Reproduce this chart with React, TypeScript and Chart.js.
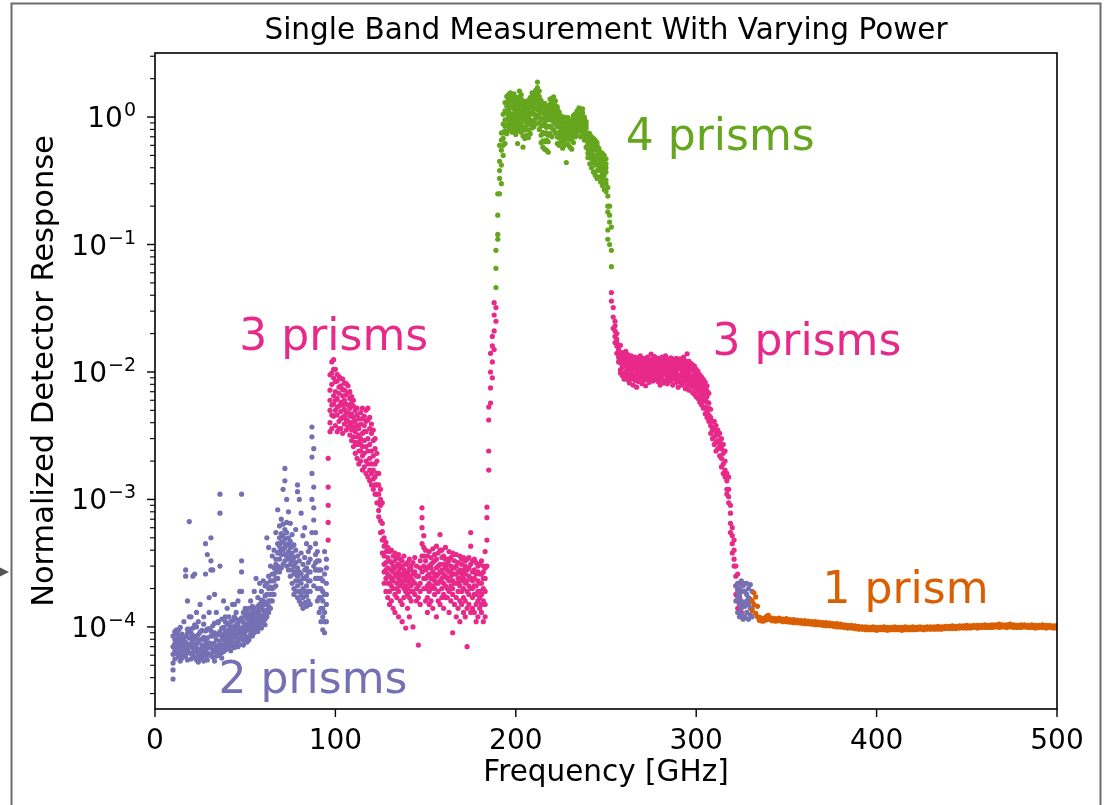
import React, { useEffect, useRef } from "react";
import { Chart, registerables } from "chart.js";

Chart.register(...registerables);

// ---------------- DATA ----------------
const X_TICKS = [0, 100, 200, 300, 400, 500];
const Y_TICK_EXPONENTS = [-4, -3, -2, -1, 0];
const X_RANGE = [0, 500];
const Y_RANGE = [2.27e-5, 3.18];

const TITLE = "Single Band Measurement With Varying Power";
const X_LABEL = "Frequency [GHz]";
const Y_LABEL = "Normalized Detector Response";

const PURPLE = "#7570b3";
const PINK = "#e7298a";
const GREEN = "#66a61e";
const ORANGE = "#d95f02";

// 2 prisms, low band: frequency (GHz) and the readings at each frequency
const PURPLE_LO_FREQ = [10,11,12,13,14,15,16,17,18,19,20,21,22,23,24,25,26,27,28,29,30,31,32,33,34,35,36,37,38,39,40,41,42,43,44,45,46,47,48,49,50,51,52,53,54,55,56,57,58,59,60,61,62,63,64,65,66,67,68,69,70,71,72,73,74,75,76,77,78,79,80,81,82,83,84,85,86,87,88,89,90,91,92,93,94,95];
const PURPLE_LO_READINGS = [
  [8.5e-5,5.2e-5,3.9e-5,4.6e-5,7.0e-5,6.1e-5],[9.2e-5,6.5e-5,7.4e-5,5.6e-5,8.0e-5,6.9e-5],[8.8e-5,6.9e-5,7.8e-5,9.5e-5,6.2e-5,7.3e-5],
  [9.4e-5,7.2e-5,6.3e-5,8.1e-5,5.8e-5,8.6e-5],[8.6e-5,6.1e-5,7.5e-5,9.9e-5,6.8e-5,5.4e-5],[7.9e-5,5.7e-5,6.8e-5,8.8e-5,6.4e-5,7.4e-5],
  [8.3e-5,6.4e-5,7.1e-5,1.1e-4,5.9e-5,7.7e-5],[7.6e-5,5.9e-5,6.6e-5,2.8e-4,2.5e-4,8.4e-5,6.1e-5],[8.9e-5,6.7e-5,7.3e-5,1.6e-4,5.5e-5,9.6e-5],
  [9.6e-5,7.0e-5,8.2e-5,6.7e-4,6.3e-5,1.2e-4],[8.1e-5,6.2e-5,7.4e-5,1.2e-4,5.6e-5,9.0e-5],[9.8e-5,6.8e-5,7.7e-5,2.5e-4,6.0e-5,8.6e-5],
  [8.4e-5,5.8e-5,7.0e-5,2.6e-4,6.5e-5,1.04e-4],[1.0e-4,7.3e-5,6.4e-5,1.3e-4,5.5e-5,8.1e-5],[8.7e-5,6.0e-5,7.6e-5,1.1e-4,6.7e-5,5.3e-5],
  [9.1e-5,6.6e-5,5.6e-5,1.5e-4,7.9e-5,6.1e-5],[8.0e-5,6.3e-5,7.2e-5,9.4e-5,5.7e-5,6.8e-5],[1.05e-4,7.1e-5,8.3e-5,1.2e-4,6.2e-5,5.4e-5],
  [9.3e-5,6.5e-5,7.8e-5,4.5e-4,2.6e-4,5.9e-5,7.2e-5],[8.2e-5,5.5e-5,6.9e-5,3.7e-4,6.3e-5,9.6e-5],[9.7e-5,6.9e-5,7.5e-5,1.7e-4,1.3e-4,6.0e-5],
  [8.5e-5,6.1e-5,7.0e-5,5.0e-4,3.3e-4,2.8e-4,9.3e-5],[1.02e-4,7.4e-5,6.6e-5,2.8e-4,5.8e-5,8.5e-5],[9.0e-5,5.4e-5,7.3e-5,1.8e-4,6.4e-5,1.07e-4],
  [8.6e-5,6.7e-5,7.9e-5,1.3e-4,5.9e-5,7.0e-5],[1.08e-4,6.0e-5,7.1e-5,1.1e-4,8.8e-5,6.5e-5],[9.2e-5,6.8e-5,7.7e-5,1.1e-3,7.8e-4,3.0e-4,6.1e-5],
  [8.4e-5,6.3e-5,7.2e-5,9.8e-5,5.7e-5,1.15e-4],[9.9e-5,7.0e-5,8.0e-5,1.6e-4,6.4e-5,8.7e-5],[1.1e-4,7.5e-5,8.6e-5,1.2e-4,6.6e-5,9.4e-5],
  [9.4e-5,6.9e-5,8.1e-5,1.4e-4,7.3e-5,1.05e-4],[1.03e-4,7.8e-5,8.8e-5,1.2e-4,6.8e-5,9.1e-5],[9.6e-5,7.2e-5,8.4e-5,1.1e-4,6.5e-5,7.7e-5],
  [1.12e-4,8.0e-5,9.1e-5,1.5e-4,7.1e-5,1.0e-4],[1.0e-4,7.4e-5,8.7e-5,1.2e-4,1.5e-4,6.9e-5],[1.15e-4,8.3e-5,9.5e-5,1.3e-4,7.5e-5,1.04e-4],
  [1.06e-4,7.7e-5,8.9e-5,1.6e-4,7.0e-5,9.7e-5],[9.8e-5,8.1e-5,9.2e-5,1.9e-4,1.13e-4,7.3e-5],[1.18e-4,8.5e-5,9.7e-5,1.1e-3,3.3e-4,2.7e-4,1.9e-4],
  [1.09e-4,7.9e-5,9.0e-5,1.3e-4,7.2e-5,1.0e-4],[1.2e-4,8.6e-5,1.0e-4,1.4e-4,7.7e-5,9.3e-5],[1.05e-4,7.6e-5,9.4e-5,1.3e-4,8.3e-5,1.17e-4],
  [1.14e-4,8.2e-5,9.8e-5,1.4e-4,7.9e-5,1.26e-4],[1.25e-4,8.8e-5,1.03e-4,1.6e-4,9.5e-5,1.12e-4],[1.19e-4,9.3e-5,1.07e-4,1.45e-4,8.5e-5,1.35e-4],
  [1.32e-4,9.0e-5,1.12e-4,1.9e-4,1.0e-4,1.22e-4],[1.4e-4,9.6e-5,1.18e-4,2.4e-4,1.06e-4,1.3e-4],[1.28e-4,1.0e-4,1.15e-4,1.7e-4,9.2e-5,1.45e-4],
  [1.5e-4,1.05e-4,1.25e-4,2.2e-4,1.13e-4,1.37e-4],[1.44e-4,9.8e-5,1.2e-4,1.9e-4,1.08e-4,1.62e-4],[1.6e-4,1.1e-4,1.35e-4,2.3e-4,1.22e-4,1.48e-4],
  [1.55e-4,1.15e-4,1.3e-4,2.1e-4,1.75e-4,1.04e-4],[1.8e-4,1.2e-4,1.5e-4,5.0e-4,2.2e-4,1.35e-4],[2.0e-4,1.3e-4,1.6e-4,4.2e-4,2.5e-4,1.45e-4],
  [2.3e-4,1.4e-4,1.8e-4,3.0e-4,2.05e-4,1.6e-4],[2.6e-4,1.6e-4,2.0e-4,3.6e-4,2.3e-4,1.8e-4],[2.9e-4,1.8e-4,2.3e-4,4.0e-4,2.6e-4,2.05e-4],
  [3.4e-4,2.1e-4,2.7e-4,5.5e-4,3.1e-4,2.4e-4],[3.8e-4,2.4e-4,3.0e-4,8.3e-4,4.5e-4,2.8e-4],[4.3e-4,2.7e-4,3.4e-4,6.2e-4,3.9e-4,5.0e-4],
  [4.6e-4,2.9e-4,3.7e-4,7.0e-4,4.1e-4,5.4e-4],[5.2e-4,3.1e-4,4.0e-4,1.2e-3,4.6e-4,6.4e-4],[4.9e-4,3.3e-4,4.2e-4,1.75e-3,1.4e-3,3.7e-4,5.8e-4],
  [5.5e-4,3.0e-4,4.4e-4,1.0e-3,3.6e-4,6.6e-4],[5.0e-4,2.8e-4,3.9e-4,8.0e-4,3.4e-4,4.5e-4],[4.7e-4,2.5e-4,3.6e-4,6.5e-4,3.1e-4,4.2e-4],
  [5.3e-4,2.2e-4,3.3e-4,4.3e-4,2.8e-4,3.8e-4],[4.4e-4,2.0e-4,3.0e-4,1.8e-4,2.6e-4,3.5e-4],[4.0e-4,1.9e-4,2.7e-4,5.8e-4,2.3e-4,3.2e-4],
  [3.6e-4,1.7e-4,2.5e-4,1.3e-3,1.15e-3,2.1e-4,2.9e-4],[3.3e-4,1.6e-4,2.3e-4,1.0e-3,1.9e-4,2.7e-4],[3.8e-4,1.5e-4,2.2e-4,7.8e-4,2.6e-4,1.8e-4],
  [3.1e-4,1.4e-4,2.0e-4,5.2e-4,2.4e-4,1.7e-4],[3.5e-4,1.55e-4,2.4e-4,6.0e-4,2.8e-4,1.9e-4],[2.9e-4,1.45e-4,2.1e-4,4.5e-4,2.5e-4,1.75e-4],
  [3.2e-4,1.6e-4,2.3e-4,3.9e-4,2.7e-4,1.9e-4],[2.7e-4,1.5e-4,1.9e-4,4.2e-4,2.3e-4,3.4e-4],[3.7e-3,3.1e-3,2.15e-3,1.6e-3,1.0e-3,5.5e-4],
  [2.5e-3,1.25e-3,8.6e-4,6.9e-4,3.0e-4,2.1e-4],[4.5e-4,2.4e-4,3.2e-4,5.5e-4,2.8e-4,3.7e-4],[3.9e-4,2.0e-4,2.8e-4,1.6e-4,2.4e-4,3.3e-4],
  [3.3e-4,1.7e-4,2.4e-4,1.3e-4,2.0e-4,2.8e-4],[2.8e-4,1.4e-4,2.0e-4,1.1e-4,1.7e-4,2.4e-4],[2.3e-4,1.2e-4,1.6e-4,9.5e-5,1.4e-4,1.9e-4],
  [3.9e-4,1.3e-4,1.8e-4,9.0e-5,1.1e-4,2.6e-4],[2.9e-4,1.5e-4,2.2e-4,1.1e-4,3.4e-4,1.8e-4]
];

// 3 prisms, low band
const PINK_LO_FREQ = [96,97,98,99,100,101,102,103,104,105,106,107,108,109,110,111,112,113,114,115,116,117,118,119,120,121,122,123,124,125,126,127,128,129,130,131,132,133,134,135,136,137,138,139,140,141,142,143,144,145,146,147,148,149,150,151,152,153,154,155,156,157,158,159,160,161,162,163,164,165,166,167,168,169,170,171,172,173,174,175,176,177,178,179,180,181,182,183,184,185,186,187,188,189];
const PINK_LO_READINGS = [
  [2.1e-3,1.25e-3,9.0e-4,6.6e-4,4.8e-4],[9.5e-3,6.0e-3,4.0e-3,3.4e-3,7.2e-3,5.0e-3],[1.2e-2,8.0e-3,5.5e-3,3.6e-3,9.8e-3,4.6e-3],
  [1.25e-2,9.0e-3,6.5e-3,4.5e-3,1.05e-2,5.6e-3],[1.05e-2,7.0e-3,5.0e-3,3.8e-3,8.4e-3,6.0e-3],[8.5e-3,4.6e-3,6.2e-3,3.4e-3,9.6e-3,5.3e-3],
  [5.4e-3,9.2e-3,4.1e-3,6.8e-3,3.6e-3,7.6e-3],[7.8e-3,3.6e-3,5.8e-3,4.9e-3,8.9e-3,4.3e-3],[4.4e-3,8.8e-3,6.5e-3,3.3e-3,5.5e-3,7.3e-3],
  [6.0e-3,3.9e-3,7.2e-3,5.1e-3,8.2e-3,4.5e-3],[3.5e-3,8.1e-3,4.2e-3,5.6e-3,6.6e-3,4.8e-3],[5.5e-3,3.7e-3,6.9e-3,4.8e-3,7.8e-3,4.1e-3],
  [3.2e-3,6.2e-3,4.5e-3,5.2e-3,3.8e-3,7.0e-3],[5.7e-3,2.9e-3,4.0e-3,3.5e-3,6.4e-3,4.7e-3],[3.7e-3,5.4e-3,2.6e-3,4.4e-3,3.1e-3,6.0e-3],
  [2.3e-3,5.0e-3,3.4e-3,4.1e-3,2.8e-3,3.7e-3],[3.1e-3,4.6e-3,2.1e-3,2.7e-3,3.8e-3,5.2e-3],[2.8e-3,4.3e-3,1.9e-3,3.6e-3,2.4e-3,3.2e-3],
  [4.8e-3,2.0e-3,3.0e-3,2.4e-3,3.9e-3,2.7e-3],[3.3e-3,5.2e-3,2.2e-3,1.7e-3,4.3e-3,2.6e-3],[1.8e-3,4.5e-3,2.9e-3,3.8e-3,2.3e-3,3.4e-3],
  [2.6e-3,5.0e-3,1.6e-3,3.4e-3,4.1e-3,2.0e-3],[4.2e-3,1.5e-3,2.4e-3,3.0e-3,5.2e-3,1.9e-3],[2.1e-3,3.6e-3,1.4e-3,2.7e-3,4.4e-3,1.7e-3],
  [1.9e-3,3.3e-3,2.4e-3,1.3e-3,3.9e-3,1.6e-3],[2.9e-3,1.2e-3,1.7e-3,2.2e-3,3.5e-3,1.45e-3],[1.5e-3,2.5e-3,1.1e-3,1.9e-3,3.0e-3,1.3e-3],
  [2.0e-3,9.4e-4,1.3e-3,1.6e-3,2.3e-3,1.1e-3],[1.1e-3,1.6e-3,8.2e-4,7.3e-4,1.3e-3,9.4e-4],[9.0e-4,1.2e-3,6.8e-4,5.5e-4,1.0e-3],
  [6.5e-4,9.4e-4,4.8e-4,3.8e-4,5.6e-4],[5.0e-4,3.6e-4,2.7e-4,4.3e-4,3.1e-4,2.2e-4],[4.6e-4,3.2e-4,2.4e-4,1.9e-4,3.9e-4,2.8e-4],
  [4.2e-4,2.9e-4,2.2e-4,3.5e-4,1.7e-4,2.6e-4],[3.3e-4,2.5e-4,1.9e-4,3.9e-4,2.2e-4,1.5e-4],[2.8e-4,4.0e-4,2.1e-4,1.6e-4,3.2e-4,2.4e-4],
  [3.6e-4,2.0e-4,2.7e-4,1.4e-4,2.3e-4,3.0e-4],[2.5e-4,3.3e-4,1.8e-4,2.9e-4,3.8e-4,1.3e-4],[3.0e-4,2.2e-4,3.5e-4,1.7e-4,2.6e-4,2.0e-4],
  [2.4e-4,1.9e-4,3.1e-4,2.7e-4,1.2e-4,3.7e-4],[3.4e-4,2.6e-4,2.1e-4,1.6e-4,2.9e-4,2.3e-4],[2.2e-4,3.0e-4,1.5e-4,2.5e-4,1.1e-4,3.3e-4],
  [2.8e-4,2.0e-4,3.6e-4,2.3e-4,1.7e-4,2.6e-4],[1.9e-4,2.6e-4,3.1e-4,2.1e-4,9.8e-5,2.4e-4],[3.2e-4,2.3e-4,1.8e-4,2.7e-4,1.4e-4,2.0e-4],
  [2.5e-4,1.7e-4,2.9e-4,2.2e-4,1.2e-4,3.4e-4],[2.1e-4,2.8e-4,1.6e-4,2.4e-4,3.0e-4,1.9e-4],[2.6e-4,1.9e-4,3.2e-4,1.0e-4,2.3e-4],
  [2.7e-4,1.8e-4,3.5e-4,2.2e-4],[3.0e-4,2.0e-4,1.6e-4,2.5e-4],[2.5e-4,1.7e-4,7.2e-5,2.1e-4],
  [2.9e-4,2.2e-4,1.5e-4,3.3e-4,1.9e-4],[8.6e-4,6.0e-4,4.5e-4,2.7e-4,3.6e-4,7.2e-4],[5.2e-4,3.6e-4,2.4e-4,3.0e-4,4.2e-4,2.0e-4],
  [4.0e-4,2.8e-4,2.0e-4,3.3e-4,1.6e-4,2.4e-4],[3.6e-4,2.5e-4,1.7e-4,1.3e-4,2.9e-4,2.1e-4],[3.0e-4,3.9e-4,2.2e-4,1.9e-4,2.6e-4,1.5e-4],
  [2.4e-4,3.5e-4,1.6e-4,2.9e-4,2.0e-4,3.1e-4],[4.1e-4,2.7e-4,2.1e-4,1.4e-4,3.2e-4,2.4e-4],[3.3e-4,2.3e-4,3.7e-4,1.8e-4,2.6e-4,2.0e-4],
  [2.9e-4,4.3e-4,2.2e-4,1.2e-4,3.4e-4,2.5e-4],[3.8e-4,2.6e-4,1.9e-4,3.0e-4,2.2e-4,1.6e-4],[5.3e-4,3.1e-4,2.3e-4,1.5e-4,4.0e-4,2.7e-4],
  [2.8e-4,4.0e-4,2.0e-4,3.5e-4,1.7e-4,2.4e-4],[3.6e-4,2.6e-4,1.8e-4,1.4e-4,3.1e-4,2.2e-4],[4.2e-4,2.9e-4,2.1e-4,3.4e-4,2.5e-4,1.7e-4],
  [2.4e-4,3.4e-4,1.7e-4,2.8e-4,2.0e-4,3.1e-4],[3.9e-4,2.7e-4,1.9e-4,1.3e-4,2.3e-4,3.3e-4],[3.0e-4,2.5e-4,1.6e-4,3.5e-4,2.1e-4,2.7e-4],
  [3.8e-4,2.3e-4,1.8e-4,9.0e-5,2.9e-4,2.0e-4],[2.6e-4,3.3e-4,1.5e-4,2.9e-4,2.2e-4,3.7e-4],[3.7e-4,2.2e-4,1.7e-4,1.2e-4,2.6e-4,3.0e-4],
  [2.4e-4,3.2e-4,1.4e-4,2.7e-4,1.9e-4,2.2e-4],[3.6e-4,2.1e-4,1.6e-4,1.1e-4,2.8e-4,2.4e-4],[2.3e-4,3.1e-4,1.5e-4,2.6e-4,1.9e-4,3.4e-4],
  [3.5e-4,2.0e-4,1.3e-4,2.8e-4,2.4e-4,1.7e-4],[3.0e-4,2.2e-4,1.6e-4,1.2e-4,2.6e-4,3.3e-4],[3.4e-4,1.9e-4,1.4e-4,7.0e-5,2.3e-4,2.8e-4],
  [2.9e-4,2.1e-4,1.5e-4,2.5e-4,3.5e-4,1.8e-4],[5.5e-4,4.3e-4,2.4e-4,1.3e-4,3.1e-4,2.0e-4],[3.3e-4,2.0e-4,1.4e-4,2.7e-4,2.3e-4,1.7e-4],
  [2.8e-4,1.8e-4,1.3e-4,2.4e-4,3.4e-4,2.1e-4],[3.2e-4,2.1e-4,1.5e-4,1.1e-4,2.6e-4,1.8e-4],[2.7e-4,1.9e-4,1.2e-4,2.3e-4,3.0e-4,1.6e-4],
  [3.1e-4,2.2e-4,1.4e-4,1.7e-4,2.6e-4,1.9e-4],[2.6e-4,1.8e-4,1.3e-4,2.2e-4,3.3e-4,1.5e-4],[3.0e-4,2.0e-4,1.1e-4,1.6e-4,2.4e-4,2.7e-4],
  [3.9e-4,2.4e-4,1.5e-4,1.2e-4,2.9e-4,1.9e-4],[8.7e-4,7.2e-4,4.8e-4,3.0e-4],[2.4e-3,1.7e-3,5.3e-3,4.2e-3],
  [1.4e-2,1.0e-2,7.5e-3,5.7e-3],[1.9e-2,1.6e-2,1.2e-2,9.0e-3],[3.5e-2,2.8e-2,2.1e-2,1.5e-2],[3.2e-2,2.5e-2]
];

// 4 prisms
const GREEN_FREQ = [189,190,191,192,193,194,195,196,197,198,199,200,201,202,203,204,205,206,207,208,209,210,211,212,213,214,215,216,217,218,219,220,221,222,223,224,225,226,227,228,229,230,231,232,233,234,235,236,237,238,239,240,241,242,243,244,245,246,247,248,249,250,251,252,253];
const GREEN_READINGS = [
  [0.065,0.046,0.09],[0.17,0.12,0.25,0.11],[0.45,0.33,0.6,0.25,0.38],[0.75,0.55,0.42,0.3,0.66],
  [1.05,0.75,0.6,0.5,0.88,0.68],[1.3,0.95,0.78,0.62,1.12,0.85],
  [1.22,0.74,1.45,0.95,1.08,0.86,1.31],[0.88,1.5,1.02,1.27,0.79,1.13,1.38],[1.4,0.98,0.83,1.19,1.55,0.91,1.06],
  [1.06,1.33,0.76,1.48,0.94,1.21,0.87],[1.52,0.89,1.16,1.01,1.35,0.8,1.25],[0.96,1.28,1.43,0.84,1.1,0.73,1.18],
  [1.18,0.78,1.36,1.04,0.62,1.24,0.92],[1.6,1.12,0.87,1.3,0.98,1.44,0.8],[0.9,1.39,1.07,0.76,1.22,1.5,1.0],
  [1.14,0.83,1.28,0.58,0.97,1.2,0.71],[1.33,0.93,1.08,0.79,1.2,0.68,1.0],[0.86,1.19,0.72,1.03,1.3,0.92,1.11],
  [1.25,0.96,0.79,1.12,0.69,1.35,1.01],[1.05,1.42,0.88,1.2,0.74,1.3,0.95],[1.55,1.1,0.9,1.33,0.82,1.22,1.45],
  [1.17,1.48,0.94,1.28,1.05,0.84,1.37],[1.62,1.04,1.3,0.88,1.45,1.16,0.97],[1.88,1.26,1.52,1.0,1.7,1.14,1.38],
  [1.32,1.6,0.9,1.18,1.45,0.8,1.05],[1.12,1.35,0.72,0.96,1.24,0.63,0.85],[0.98,1.2,0.65,0.86,1.08,0.58,0.76],
  [1.28,0.9,0.56,1.07,0.74,1.17,0.64],[0.83,1.14,0.66,0.95,0.55,1.03,0.75],[1.22,0.72,0.98,0.53,1.1,0.85,0.64],
  [1.38,0.95,1.16,0.74,1.26,0.84,1.05],[1.08,1.3,0.82,1.18,0.7,0.97,1.4],[1.44,1.01,1.26,0.79,1.13,0.9,1.33],
  [1.16,0.88,1.34,0.75,1.04,1.23,0.95],[0.97,1.2,0.7,1.08,0.84,1.14,0.62],[1.05,0.76,0.93,0.6,1.1,0.84,0.69],
  [0.86,0.98,0.64,0.78,1.02,0.71,0.9],[0.94,0.69,0.82,0.57,0.88,0.76,0.63],[0.78,1.0,0.66,0.9,0.6,0.85,0.72],
  [0.9,0.62,0.8,0.44,0.74,0.86,0.68],[0.7,0.95,0.83,0.61,0.89,0.76,0.99],[0.88,0.74,0.58,0.93,0.67,0.81,0.72],
  [0.66,0.85,0.76,0.56,0.9,0.71,0.8],[0.98,0.73,0.87,0.63,1.03,0.79,0.92],[0.82,1.06,0.7,0.95,0.77,1.0,0.88],
  [1.12,0.86,1.0,0.72,0.94,1.07,0.8],[0.92,1.18,0.78,1.04,0.87,1.1,0.97],[1.08,0.83,0.96,0.7,1.01,0.9,1.14],
  [0.88,1.16,0.75,1.02,0.94,0.81,1.08],[1.0,0.77,0.9,0.66,0.96,0.85,0.72],[0.82,0.66,0.92,0.58,0.74,0.87,0.7],
  [0.72,0.56,0.66,0.48,0.75,0.62,0.52],[0.6,0.74,0.5,0.68,0.43,0.64,0.55],[0.7,0.52,0.62,0.4,0.58,0.47,0.66],
  [0.55,0.68,0.44,0.61,0.37,0.5,0.64],[0.62,0.46,0.57,0.35,0.66,0.5,0.42],[0.48,0.6,0.38,0.55,0.43,0.63,0.33],
  [0.57,0.42,0.52,0.34,0.47,0.39,0.55],[0.44,0.53,0.31,0.49,0.38,0.46,0.41],[0.5,0.36,0.45,0.29,0.42,0.33,0.52],
  [0.39,0.47,0.3,0.44,0.35,0.5,0.27],[0.43,0.32,0.4,0.26,0.37,0.47,0.3],[0.24,0.18,0.13,0.11,0.2,0.28],
  [0.2,0.15,0.1,0.17],[0.137,0.09,0.067]
];

// 3 prisms, high band
const PINK_HI_FREQ = [253,254,255,256,257,258,259,260,261,262,263,264,265,266,267,268,269,270,271,272,273,274,275,276,277,278,279,280,281,282,283,284,285,286,287,288,289,290,291,292,293,294,295,296,297,298,299,300,301,302,303,304,305,306,307,308,309,310,311,312,313,314,315,316,317,318,319,320,321,322,323,324,325];
const PINK_HI_READINGS = [
  [0.042,0.036],[0.032,0.027,0.022],[0.025,0.021,0.019,0.017,0.023],[0.018,0.016,0.014,0.02,0.017],
  [0.016,0.013,0.012,0.015,0.0145],[0.0135,0.0118,0.0104,0.0162,0.0125,0.0098],[0.0108,0.0142,0.0121,0.0094,0.0131,0.0115],
  [0.0126,0.0097,0.0139,0.0112,0.0088,0.0119],[0.0101,0.0132,0.0115,0.0124,0.0092,0.0145],[0.0137,0.0106,0.0087,0.0121,0.0113,0.0095],
  [0.0093,0.0118,0.0129,0.0104,0.0082,0.0112],[0.0121,0.0089,0.0108,0.0134,0.0097,0.0115],[0.0105,0.0127,0.0092,0.0113,0.0079,0.0119],
  [0.0131,0.0096,0.0117,0.0086,0.0108,0.0124],[0.0088,0.0112,0.0125,0.0099,0.0118,0.0076],[0.0116,0.0102,0.0084,0.0129,0.0093,0.011],
  [0.0098,0.0134,0.0107,0.0089,0.0121,0.0101],[0.0123,0.0091,0.0113,0.0104,0.0081,0.0128],[0.0095,0.0118,0.0086,0.0126,0.0109,0.0099],
  [0.0128,0.0103,0.0119,0.0078,0.0112,0.0094],[0.0109,0.0087,0.0131,0.0115,0.0097,0.0122],[0.0092,0.0121,0.0101,0.0083,0.0117,0.0106],
  [0.0119,0.0096,0.0124,0.0108,0.0089,0.0138],[0.0102,0.0127,0.0091,0.0114,0.0122,0.0085],[0.0125,0.0088,0.0111,0.0097,0.0132,0.0104],
  [0.0087,0.0114,0.0123,0.0101,0.0093,0.0118],[0.0115,0.0106,0.0084,0.0128,0.0098,0.0121],[0.0097,0.0125,0.0112,0.0089,0.0116,0.0079],
  [0.0121,0.0093,0.0105,0.0131,0.0087,0.011],[0.0104,0.0117,0.0082,0.0096,0.0124,0.0113],[0.0126,0.0099,0.0115,0.0086,0.0108,0.0134],
  [0.0091,0.0112,0.0127,0.0103,0.0081,0.0118],[0.0117,0.0088,0.0102,0.0122,0.0095,0.0109],[0.0098,0.0124,0.0085,0.0113,0.0129,0.0092],
  [0.0111,0.0094,0.0119,0.0079,0.0105,0.0126],[0.0089,0.0115,0.0101,0.0123,0.0092,0.0108],[0.0119,0.0083,0.0107,0.0096,0.0128,0.0102],
  [0.0094,0.0113,0.0121,0.0087,0.0106,0.0076],[0.0108,0.0127,0.0091,0.0115,0.0084,0.0119],[0.0086,0.0105,0.0117,0.0098,0.0124,0.0079],
  [0.0114,0.0092,0.0131,0.0103,0.0082,0.0109],[0.0097,0.0118,0.0085,0.0107,0.0074,0.0122],[0.0139,0.0101,0.0088,0.0115,0.0094,0.0078],
  [0.0083,0.0109,0.0096,0.0121,0.0072,0.0104],[0.0112,0.0087,0.0103,0.0079,0.0117,0.0093],[0.0091,0.0069,0.0106,0.0084,0.0114,0.0076],
  [0.0102,0.0081,0.0095,0.0067,0.0111,0.0088],[0.0078,0.0097,0.0064,0.0086,0.0105,0.0072],[0.0093,0.0071,0.0084,0.0101,0.0062,0.0079],
  [0.0068,0.0088,0.0076,0.0095,0.0058,0.0082],[0.0085,0.0063,0.0091,0.0074,0.0055,0.0079],[0.0072,0.0087,0.0059,0.0081,0.0066,0.0052],
  [0.0083,0.0061,0.0074,0.0053,0.0069,0.0047],[0.0064,0.0078,0.0049,0.0058,0.0071,0.0044],[0.0057,0.0046,0.0068,0.0041,0.0052],
  [0.0044,0.0038,0.0051,0.0033,0.0042],[0.0041,0.0035,0.003,0.0037],[0.0036,0.0031,0.0041,0.0027],[0.0033,0.0038,0.0028,0.0024],
  [0.0035,0.0029,0.0025,0.0032],[0.0028,0.0033,0.0022,0.0026],[0.0025,0.003,0.0021,0.0018],[0.0023,0.0019,0.0027,0.0016],
  [0.002,0.0017,0.0024,0.0015],[0.0016,0.0014,0.0012,0.0011],[0.0015,0.0012,0.00105,0.00094],[0.0009,0.00078,0.00065,0.00055],
  [0.0006,0.00052,0.00045,0.00038],[0.00048,0.0004,0.00034,0.0003],[0.0003,0.00025,0.00021,0.00018],[0.00026,0.0002,0.00016,0.00014],
  [0.00022,0.00017,0.00015,0.00013],[0.00019,0.00015,0.00013]
];

// 2 prisms, high band
const PURPLE_HI_FREQ = [322,323,324,325,326,327,328,329,330,331];
const PURPLE_HI_READINGS = [
  [2.1e-4,1.6e-4],[2.2e-4,1.7e-4,1.3e-4,1.9e-4],[2.0e-4,1.5e-4,1.2e-4,1.8e-4],[2.3e-4,1.6e-4,1.25e-4,1.4e-4],
  [2.1e-4,1.55e-4,1.15e-4,1.9e-4],[1.9e-4,1.45e-4,1.2e-4,2.2e-4],[2.2e-4,1.6e-4,1.3e-4,1.8e-4],[2.0e-4,1.5e-4,1.15e-4,1.7e-4],
  [2.15e-4,1.65e-4,1.25e-4,1.4e-4],[1.9e-4,1.4e-4,1.2e-4]
];

// 1 prism
const ORANGE_FREQ = [331,332,333,334,335,336,337,338,339,340,342,344,346,348,350,352,354,356,358,360,362,364,366,368,370,372,374,376,378,380,382,384,386,388,390,392,394,396,398,400,402,404,406,408,410,412,414,416,418,420,422,424,426,428,430,432,434,436,438,440,442,444,446,448,450,452,454,456,458,460,462,464,466,468,470,472,474,476,478,480,482,484,486,488,490,492,494,496,498,500];
const ORANGE_READINGS = [
  [1.6e-4,1.35e-4],[1.85e-4,1.5e-4],[1.72e-4,1.28e-4],[1.45e-4,1.2e-4],[1.19e-4,1.13e-4],[1.17e-4,1.12e-4],[1.16e-4,1.11e-4],[1.18e-4,1.13e-4],
  [1.21e-4,1.14e-4],[1.23e-4,1.15e-4],[1.17e-4,1.12e-4],[1.16e-4,1.11e-4],[1.17e-4,1.12e-4],[1.15e-4,1.1e-4],[1.16e-4,1.1e-4],[1.14e-4,1.09e-4],
  [1.14e-4,1.08e-4],[1.13e-4,1.08e-4],[1.12e-4,1.07e-4],[1.12e-4,1.06e-4],[1.11e-4,1.06e-4],[1.1e-4,1.05e-4],[1.1e-4,1.04e-4],[1.09e-4,1.04e-4],
  [1.08e-4,1.03e-4],[1.08e-4,1.02e-4],[1.07e-4,1.02e-4],[1.06e-4,1.01e-4],[1.06e-4,1.0e-4],[1.05e-4,1.0e-4],[1.04e-4,9.9e-5],[1.03e-4,9.8e-5],
  [1.03e-4,9.8e-5],[1.02e-4,9.7e-5],[1.01e-4,9.6e-5],[1.0e-4,9.6e-5],[1.0e-4,9.5e-5],[9.9e-5,9.5e-5],[1.0e-4,9.5e-5],[9.9e-5,9.4e-5],
  [9.9e-5,9.5e-5],[1.0e-4,9.5e-5],[9.9e-5,9.4e-5],[9.9e-5,9.5e-5],[1.0e-4,9.5e-5],[9.9e-5,9.5e-5],[9.9e-5,9.4e-5],[1.0e-4,9.5e-5],
  [9.9e-5,9.5e-5],[1.0e-4,9.5e-5],[9.9e-5,9.5e-5],[1.0e-4,9.6e-5],[9.9e-5,9.5e-5],[1.0e-4,9.6e-5],[1.0e-4,9.6e-5],[1.0e-4,9.6e-5],
  [1.01e-4,9.6e-5],[1.0e-4,9.6e-5],[1.01e-4,9.7e-5],[1.01e-4,9.7e-5],[1.02e-4,9.7e-5],[1.01e-4,9.7e-5],[1.02e-4,9.8e-5],[1.02e-4,9.8e-5],
  [1.03e-4,9.8e-5],[1.02e-4,9.8e-5],[1.03e-4,9.9e-5],[1.03e-4,9.8e-5],[1.03e-4,9.9e-5],[1.04e-4,9.9e-5],[1.03e-4,9.9e-5],[1.04e-4,9.9e-5],
  [1.04e-4,1.0e-4],[1.05e-4,9.9e-5],[1.04e-4,1.0e-4],[1.04e-4,9.9e-5],[1.05e-4,1.0e-4],[1.04e-4,9.9e-5],[1.03e-4,9.9e-5],[1.04e-4,9.9e-5],
  [1.04e-4,1.0e-4],[1.03e-4,9.9e-5],[1.04e-4,9.9e-5],[1.03e-4,9.8e-5],[1.03e-4,9.9e-5],[1.04e-4,9.9e-5],[1.03e-4,9.8e-5],[1.03e-4,9.9e-5],
  [1.02e-4,9.8e-5],[1.03e-4,9.8e-5]
];

// Annotations: [text, x (GHz) of text start, y (value) of text baseline, colour]
const ANNOTATIONS: [string, number, number, string][] = [
  ["4 prisms", 261, 0.55, GREEN],
  ["3 prisms", 46.7, 0.0149, PINK],
  ["3 prisms", 309, 0.0136, PINK],
  ["2 prisms", 35.2, 3.03e-5, PURPLE],
  ["1 prism", 370, 1.54e-4, ORANGE],
];

// ---------------- HELPERS ----------------
const FONT = '"DejaVu Sans", "Liberation Sans", sans-serif';

function toPoints(freq: number[], readings: number[][]) {
  const pts: { x: number; y: number }[] = [];
  const n = Math.min(freq.length, readings.length);
  for (let i = 0; i < n; i++) {
    for (const v of readings[i]) {
      if (v != null) pts.push({ x: freq[i], y: v });
    }
  }
  return pts;
}

const overlayPlugin = {
  id: "overlay",
  beforeDraw(chart: any) {
    const ctx = chart.ctx;
    ctx.save();
    ctx.fillStyle = "#ffffff";
    ctx.fillRect(0, 0, chart.width, chart.height);
    ctx.restore();
  },
  afterDraw(chart: any) {
    const ctx: CanvasRenderingContext2D = chart.ctx;
    const a = chart.chartArea;
    const xs = chart.scales.x;
    const ys = chart.scales.y;
    const cx = (a.left + a.right) / 2;
    ctx.save();

    // annotations
    ctx.font = `44px ${FONT}`;
    ctx.textAlign = "left";
    ctx.textBaseline = "alphabetic";
    for (const [t, gx, gy, col] of ANNOTATIONS) {
      ctx.fillStyle = col;
      ctx.fillText(t, xs.getPixelForValue(gx), ys.getPixelForValue(gy));
    }

    // spines
    ctx.strokeStyle = "#000";
    ctx.lineWidth = 1.6;
    ctx.strokeRect(a.left, a.top, a.right - a.left, a.bottom - a.top);

    // x ticks
    ctx.fillStyle = "#000";
    ctx.lineWidth = 1.4;
    ctx.font = `28px ${FONT}`;
    ctx.textAlign = "center";
    for (const v of X_TICKS) {
      const px = xs.getPixelForValue(v);
      ctx.beginPath();
      ctx.moveTo(px, a.bottom);
      ctx.lineTo(px, a.bottom + 8);
      ctx.stroke();
      ctx.fillText(String(v), px, a.bottom + 40);
    }

    // y minor ticks
    ctx.lineWidth = 1.1;
    for (let d = -6; d <= 1; d++) {
      for (let k = 2; k <= 9; k++) {
        const v = k * Math.pow(10, d);
        if (v < Y_RANGE[0] || v > Y_RANGE[1]) continue;
        const py = ys.getPixelForValue(v);
        ctx.beginPath();
        ctx.moveTo(a.left - 5, py);
        ctx.lineTo(a.left, py);
        ctx.stroke();
      }
    }

    // y major ticks + labels
    ctx.lineWidth = 1.4;
    const labelRight = a.left - 19;
    for (const e of Y_TICK_EXPONENTS) {
      const py = ys.getPixelForValue(Math.pow(10, e));
      ctx.beginPath();
      ctx.moveTo(a.left - 8, py);
      ctx.lineTo(a.left, py);
      ctx.stroke();
      const sup = e < 0 ? "\u2212" + String(-e) : String(e);
      ctx.textAlign = "left";
      ctx.font = `19px ${FONT}`;
      const wSup = ctx.measureText(sup).width;
      ctx.fillText(sup, labelRight - wSup, py - 1);
      ctx.font = `28px ${FONT}`;
      const wBase = ctx.measureText("10").width;
      ctx.fillText("10", labelRight - wSup - 1 - wBase, py + 10);
    }

    // title
    ctx.textAlign = "center";
    ctx.font = `29.5px ${FONT}`;
    ctx.fillText(TITLE, cx, 38.5);

    // x label
    ctx.fillText(X_LABEL, cx, 781);

    // y label
    ctx.save();
    ctx.translate(53, 371);
    ctx.rotate(-Math.PI / 2);
    ctx.font = `30.5px ${FONT}`;
    ctx.fillText(Y_LABEL, 0, 0);
    ctx.restore();

    // outer figure frame
    ctx.strokeStyle = "#6b6b6b";
    ctx.lineWidth = 2;
    ctx.beginPath();
    ctx.moveTo(11.5, chart.height + 2);
    ctx.lineTo(11.5, 3.5);
    ctx.lineTo(1100.5, 3.5);
    ctx.lineTo(1100.5, chart.height + 2);
    ctx.stroke();

    // small arrow on the left edge
    ctx.fillStyle = "#555";
    ctx.beginPath();
    ctx.moveTo(0, 567.5);
    ctx.lineTo(9, 572);
    ctx.lineTo(0, 576.5);
    ctx.closePath();
    ctx.fill();

    ctx.restore();
  },
};

export default function App() {
  const canvasRef = useRef<HTMLCanvasElement | null>(null);

  useEffect(() => {
    const canvas = canvasRef.current;
    if (!canvas) return;
    const mk = (label: string, color: string, data: any[], order: number) => ({
      label,
      data,
      backgroundColor: color,
      borderColor: color,
      borderWidth: 0,
      pointRadius: 2.6,
      pointHoverRadius: 2.6,
      order,
      clip: 0,
    });
    const chart = new Chart(canvas, {
      type: "scatter",
      data: {
        datasets: [
          mk("1 prism", ORANGE, toPoints(ORANGE_FREQ, ORANGE_READINGS), 0),
          mk("2 prisms (high)", PURPLE, toPoints(PURPLE_HI_FREQ, PURPLE_HI_READINGS), 1),
          mk("2 prisms (low)", PURPLE, toPoints(PURPLE_LO_FREQ, PURPLE_LO_READINGS), 2),
          mk("4 prisms", GREEN, toPoints(GREEN_FREQ, GREEN_READINGS), 3),
          mk("3 prisms (low)", PINK, toPoints(PINK_LO_FREQ, PINK_LO_READINGS), 4),
          mk("3 prisms (high)", PINK, toPoints(PINK_HI_FREQ, PINK_HI_READINGS), 5),
        ] as any,
      },
      options: {
        animation: false,
        responsive: false,
        devicePixelRatio: 1,
        events: [],
        layout: { padding: { left: 155, top: 53, right: 50, bottom: 96 } },
        plugins: {
          legend: { display: false },
          tooltip: { enabled: false },
          title: { display: false },
        },
        scales: {
          x: {
            type: "linear",
            min: X_RANGE[0],
            max: X_RANGE[1],
            ticks: { display: false },
            grid: { display: false },
            border: { display: false },
            afterFit: (s: any) => { s.height = 0; },
          },
          y: {
            type: "logarithmic",
            min: Y_RANGE[0],
            max: Y_RANGE[1],
            ticks: { display: false },
            grid: { display: false },
            border: { display: false },
            afterFit: (s: any) => { s.width = 0; },
          },
        },
      } as any,
      plugins: [overlayPlugin],
    });
    return () => chart.destroy();
  }, []);

  return (
    <div style={{ position: "absolute", left: 0, top: 0, width: 1107, height: 805, background: "#fff" }}>
      <canvas ref={canvasRef} width={1107} height={805} style={{ width: 1107, height: 805, display: "block" }} />
    </div>
  );
}
